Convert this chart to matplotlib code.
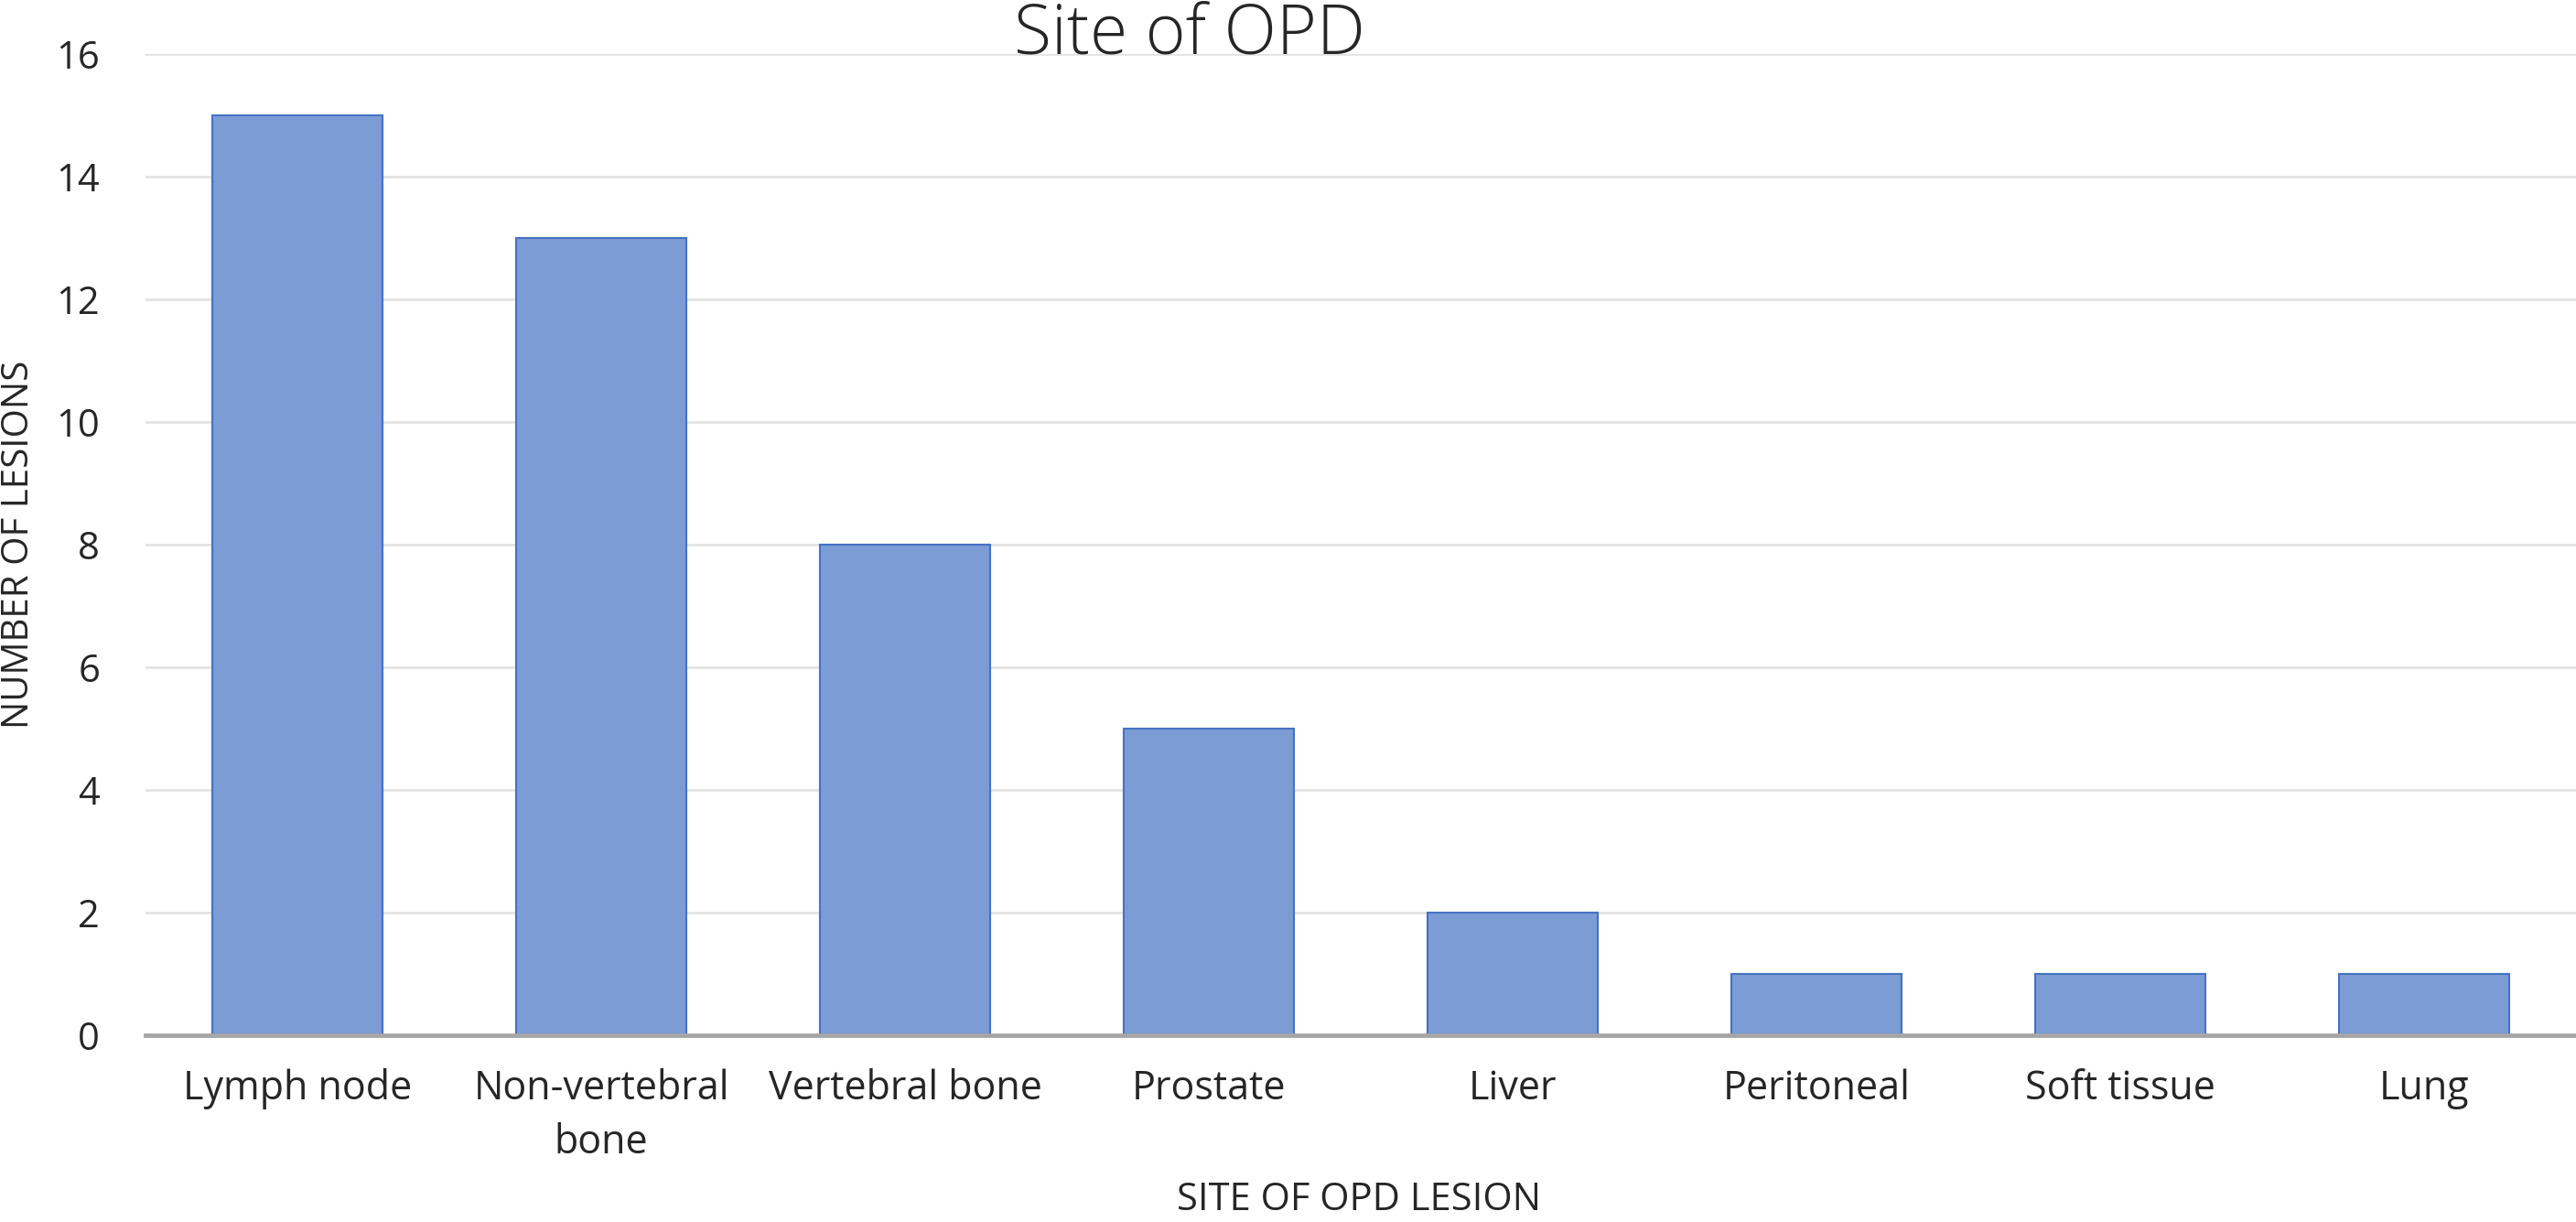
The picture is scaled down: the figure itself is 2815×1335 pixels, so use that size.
import matplotlib
matplotlib.use("Agg")
import matplotlib.pyplot as plt

# Site of OPD lesions - bar chart
sites = ['Lymph node', 'Non-vertebral\nbone', 'Vertebral bone', 'Prostate',
         'Liver', 'Peritoneal', 'Soft tissue', 'Lung']
lesions = [15, 13, 8, 5, 2, 1, 1, 1]
yticks = [0, 2, 4, 6, 8, 10, 12, 14, 16]

plt.rcParams['font.family'] = ['Open Sans', 'DejaVu Sans']

W, H = 2815, 1335
fig = plt.figure(figsize=(W / 100, H / 100), dpi=100)
ax = fig.add_axes([159 / W, 1 - 1131 / H, (2815 - 159) / W, (1131 - 59) / H])

x = range(len(sites))
ax.bar(x, lesions, width=0.56, color='#7b9cd5', edgecolor='#4472c4',
       linewidth=1.5, zorder=3)

ax.set_xlim(-0.5, len(sites) - 0.5)
ax.set_ylim(0, 16)
ax.set_yticks(yticks)
ax.set_yticklabels([str(t) for t in yticks], fontsize=30, color='#262626')
ax.set_xticks(list(x))
ax.set_xticklabels(sites, fontsize=31, color='#262626', linespacing=1.45)
ax.tick_params(axis='both', length=0)
ax.tick_params(axis='y', pad=36)
ax.tick_params(axis='x', pad=26)

ax.grid(axis='y', color='#e3e3e3', linewidth=2, zorder=0)
for s in ['top', 'right', 'left']:
    ax.spines[s].set_visible(False)
ax.spines['bottom'].set_color('#a6a6a6')
ax.spines['bottom'].set_linewidth(3.5)
ax.spines['bottom'].set_zorder(4)

# title sits right at the top edge, like the original
fig.text(1300 / W, 1 - 1 / H, 'Site of OPD', fontsize=54, fontweight='light',
         color='#262626', ha='center', va='top')
fig.text(21 / W, 1 - 595 / H, 'NUMBER OF LESIONS', fontsize=29, rotation=90,
         color='#262626', ha='center', va='center')
fig.text(1485 / W, 3 / H, 'SITE OF OPD LESION', fontsize=30,
         color='#262626', ha='center', va='bottom')

fig.savefig('out.png', dpi=100)
